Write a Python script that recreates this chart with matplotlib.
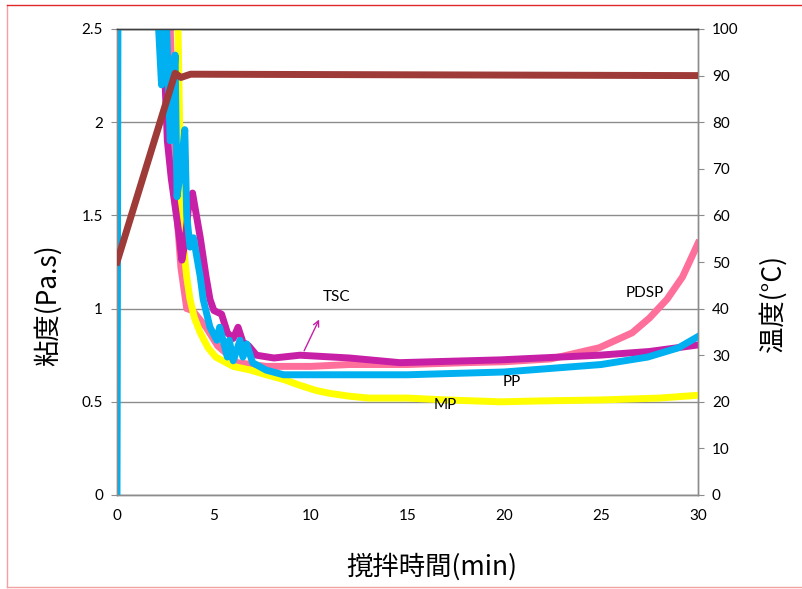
import matplotlib
matplotlib.use("Agg")
import matplotlib.pyplot as plt
from matplotlib.lines import Line2D

# temperature (right axis)
t_temp = [0, 3.0, 3.3, 3.8, 30]
temp = [50, 90.5, 89.6, 90.3, 90.0]

# viscosity series (left axis)
t_pp = [0, 0.02, 0.06, 2.0, 2.1, 2.3, 2.5, 2.75, 3.0, 3.1, 3.3, 3.5, 3.6, 3.77, 3.95,
        4.3, 4.45, 4.8, 5.16, 5.3, 5.7, 5.8, 6.0, 6.35, 6.5, 6.7, 7.0, 7.7, 8.6,
        10, 15, 20, 25, 27.4, 29, 30]
pp = [0, 1.0, 3.2, 3.2, 2.6, 2.2, 2.7, 1.9, 2.36, 1.6, 1.75, 1.96, 1.5, 1.33, 1.38,
      1.17, 1.05, 0.9, 0.83, 0.9, 0.74, 0.83, 0.72, 0.83, 0.74, 0.81, 0.71, 0.67, 0.645,
      0.645, 0.645, 0.66, 0.70, 0.74, 0.79, 0.85]

t_tsc = [2.3, 2.37, 2.45, 2.6, 2.8, 3.0, 3.2, 3.35, 3.5, 3.7, 3.9, 4.1, 4.3, 4.6, 4.8,
         5.0, 5.4, 5.7, 6.0, 6.25, 6.5, 6.8, 7.2, 8.1, 9.45, 12, 14.6, 19.8, 24.9, 27.5, 30]
tsc = [3.0, 2.24, 2.3, 1.9, 1.7, 1.55, 1.4, 1.26, 1.35, 1.55, 1.62, 1.5, 1.38, 1.17, 1.05,
       0.99, 0.97, 0.87, 0.84, 0.9, 0.82, 0.8, 0.75, 0.735, 0.75, 0.735, 0.71, 0.725, 0.75, 0.77, 0.805]

t_pdsp = [2.6, 2.9, 3.1, 3.3, 3.6, 3.9, 4.6, 5.2, 6.2, 7.7, 10, 12, 15, 18, 20, 22.4,
          24.9, 26.6, 27.5, 28.4, 29.2, 30]
pdsp = [3.0, 2.0, 1.5, 1.22, 1.0, 0.99, 0.9, 0.8, 0.71, 0.69, 0.69, 0.70, 0.70, 0.71, 0.715, 0.73,
        0.79, 0.87, 0.95, 1.05, 1.17, 1.35]

t_mp = [3.05, 3.15, 3.25, 3.35, 3.6, 3.77, 4.0, 4.3, 4.7, 5.1, 6.0, 6.9, 7.7, 8.6, 9.4, 10.3,
        11, 12, 13, 15, 17, 19.8, 22, 25, 28, 30]
mp = [3.0, 2.5, 1.9, 1.42, 1.17, 1.05, 0.95, 0.87, 0.79, 0.74, 0.69, 0.67, 0.645, 0.62, 0.59, 0.56,
      0.545, 0.53, 0.52, 0.52, 0.51, 0.50, 0.505, 0.51, 0.52, 0.535]

labels = [("TSC", 11.36, 1.062), ("PDSP", 27.26, 1.084), ("PP", 20.39, 0.606), ("MP", 16.93, 0.483)]

num_font = "Lato"
jp_font = ["Noto Sans CJK JP", "DejaVu Sans"]

fig = plt.figure(figsize=(8.02, 5.89), dpi=100)
ax = fig.add_axes([117 / 802, 1 - 495 / 589, (698 - 117) / 802, (495 - 29) / 589])

lw = 5
ax.plot(t_pdsp, pdsp, color="#FF6F9C", lw=lw, solid_joinstyle="round", zorder=2)
ax.plot(t_mp, mp, color="#FFFF00", lw=lw, solid_joinstyle="round", zorder=3)
ax.plot(t_tsc, tsc, color="#C71FA6", lw=lw, solid_joinstyle="round", zorder=4)
ax.plot(t_pp, pp, color="#00B0F0", lw=lw, solid_joinstyle="round", zorder=6)

ax.set_xlim(0, 30)
ax.set_ylim(0, 2.5)
ax.set_xticks(range(0, 31, 5))
ax.set_yticks([0, 0.5, 1, 1.5, 2, 2.5])
ax.set_yticklabels(["0", "0.5", "1", "1.5", "2", "2.5"])
ax.grid(axis="y", color="#8C8C8C", lw=1)
ax.set_axisbelow(True)

for txt, x, y in labels:
    ax.text(x, y, txt, ha="center", va="center", fontsize=11, family=num_font, zorder=8)
ax.annotate("", xy=(10.5, 0.955), xytext=(9.6, 0.76),
            arrowprops=dict(arrowstyle="->", color="#C71FA6", lw=1), zorder=8)

ax2 = ax.twinx()
ax2.plot(t_temp, temp, color="#9E3A38", lw=lw, solid_joinstyle="round", zorder=7)
ax2.set_ylim(0, 100)
ax2.set_yticks(range(0, 101, 10))

for a in (ax, ax2):
    for s in a.spines.values():
        s.set_color("#8C8C8C")
        s.set_linewidth(1)
    a.spines["top"].set_color("#404040")
    a.tick_params(labelsize=11, colors="#8C8C8C", labelcolor="black", length=4)
    for lab in a.get_xticklabels() + a.get_yticklabels():
        lab.set_family(num_font)
ax.tick_params(axis="x", length=0, pad=10)
ax.tick_params(axis="y", pad=6)
ax2.tick_params(axis="y", pad=6)

ax.set_xlabel("撹拌時間(min)", fontsize=19, family=jp_font)
ax.xaxis.set_label_coords((432 - 117) / 581, -(553 - 495) / 466)
ax.set_ylabel("粘度(Pa.s)", fontsize=19, family=jp_font)
ax.yaxis.set_label_coords(-(117 - 62) / 581, (495 - 305) / 466)
ax2.set_ylabel("温度(°C)", fontsize=19, family=jp_font, rotation=90)
ax2.yaxis.set_label_coords(1 + (759 - 698) / 581, (495 - 303) / 466)

# figure border
fx0, fx1 = 7 / 802, 801 / 802
fy0, fy1 = 1 - 587 / 589, 1 - 5 / 589
fig.add_artist(Line2D([fx0, fx0], [fy0, fy1], color="#F4A0A0", lw=1))
fig.add_artist(Line2D([fx0, fx1], [fy0, fy0], color="#F4A0A0", lw=1))
fig.add_artist(Line2D([fx0, fx1], [fy1, fy1], color="#E02828", lw=1))

fig.savefig("out.png", dpi=100)
